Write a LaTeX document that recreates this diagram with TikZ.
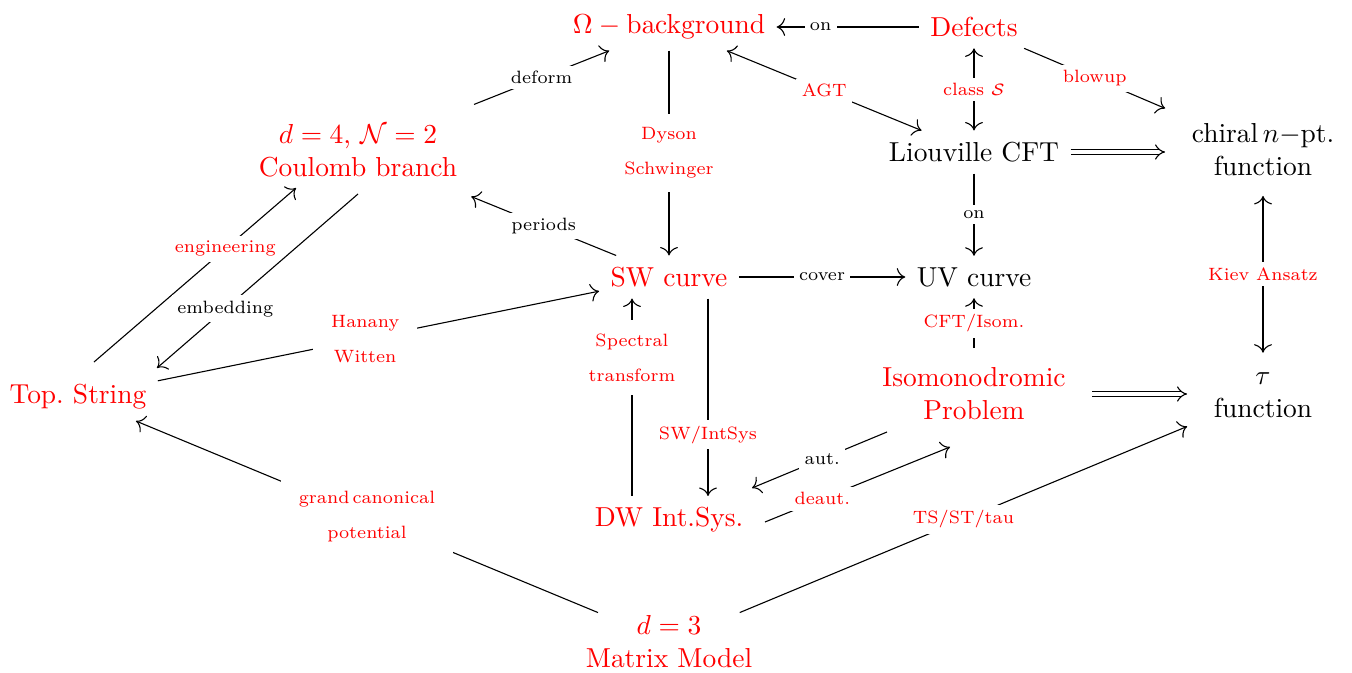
\documentclass[tikz,border=0pt]{standalone}
\usepackage{amsmath,amssymb}
\usepackage{xcolor}
\usepackage{tikz}
\usetikzlibrary{arrows.meta}

\begin{document}
\begin{tikzpicture}[
    x=0.3643pt, y=-0.3643pt,
    cell/.style={align=center, inner sep=4pt},
    stack/.style={cell, inner xsep=9.5pt, inner ysep=7pt},
    hot/.style={text=red},
    lbl/.style={font=\fontsize{6.5}{8}\selectfont, fill=white, inner sep=2pt},
    rlbl/.style={lbl, text=red},
    pair/.style={align=center, inner xsep=6.5pt, inner ysep=5pt},
    arrow/.style={-{Computer Modern Rightarrow[scale=1.25]}},
    both/.style={{Computer Modern Rightarrow[scale=1.25]}-{Computer Modern Rightarrow[scale=1.25]}},
    implies/.style={-Implies, double equal sign distance},
]
\useasboundingbox (0,0) rectangle (1352,673);

% Top row
\node[cell, hot] (omega) at (669,27) {$\Omega - \mathrm{background}$};
\node[cell, hot] (defects) at (974,27) {Defects};

% Gauge theory, CFT, conformal blocks
\node[stack, hot] (coulomb) at (358,150.5) {$d=4$, $\mathcal{N}=2$\\Coulomb branch};
\node[cell] (liouville) at (974,152) {Liouville CFT};
\node[stack] (chiral) at (1263,150) {chiral\,$n-$pt.\\function};

% Curves
\node[cell, hot] (swcurve) at (669,277) {SW curve};
\node[cell] (uvcurve) at (974,277) {UV curve};

% Strings, isomonodromy, tau
\node[cell, hot] (topstring) at (78,397) {Top.\ String};
\node[stack, hot] (isomono) at (974,394) {Isomonodromic\\Problem};
\node[stack] (tau) at (1263,395) {$\tau$\\function};

% Integrable system and matrix model
\node[cell, hot] (dwint) at (669,520) {DW Int.Sys.};
\node[cell, hot, inner sep=1pt] (matrix) at (669,642) {$d=3$\\Matrix Model};

% Arrows
\draw[arrow] (defects) -- node[lbl, pos=0.69]{on} (omega);
\draw[arrow] (coulomb) -- node[lbl]{deform} (omega);
\draw[arrow] (omega) -- node[rlbl, pair]{Dyson\\[4.7pt]Schwinger} (swcurve);
\draw[both] (omega) -- node[rlbl]{AGT} (liouville);
\draw[both] (defects) -- node[rlbl]{class $\mathcal{S}$} (liouville);
\draw[arrow] (defects) -- node[rlbl]{blowup} (chiral);
\draw[implies] (liouville) -- (liouville -| chiral.west);
\draw[arrow] (liouville) -- node[lbl]{on} (uvcurve);
\draw[arrow] (swcurve) -- node[lbl]{periods} (coulomb);
\draw[arrow] (swcurve) -- node[lbl]{cover} (uvcurve);
\draw[arrow] ([shift={(16,-35)}]topstring.center) -- node[rlbl, pos=0.65]{engineering} ([shift={(-62,37.5)}]coulomb.center);
\draw[arrow] ([shift={(0,43.5)}]coulomb.center) -- node[lbl, pos=0.66]{embedding} ([shift={(79,-29)}]topstring.center);
\draw[arrow] (topstring) -- node[rlbl, pair, pos=0.47]{Hanany\\[4.7pt]Witten} (swcurve);
\draw[arrow] ([shift={(-37,0)}]dwint.north) -- node[rlbl, pair, pos=0.7]{Spectral\\[4.7pt]transform} ([shift={(-37,0)}]swcurve.south);
\draw[arrow] ([shift={(39,0)}]swcurve.south) -- node[rlbl, pos=0.69]{SW/IntSys} ([shift={(39,0)}]dwint.north);
\draw[arrow] ([shift={(-87,38)}]isomono.center) -- node[lbl, pos=0.48]{aut.} ([shift={(83,-32)}]dwint.center);
\draw[arrow] ([shift={(96,2)}]dwint.center) -- node[rlbl, pos=0.31]{deaut.} ([shift={(-24,53)}]isomono.center);
\draw[arrow] (isomono) -- node[rlbl]{CFT/Isom.} (uvcurve);
\draw[implies] (isomono) -- (isomono -| tau.west);
\draw[both] (chiral) -- node[rlbl]{Kiev Ansatz} (tau);
\draw[arrow] (matrix) -- node[rlbl, pair]{grand\,canonical\\[4.7pt]potential} (topstring);
\draw[arrow] (matrix) -- node[rlbl]{TS/ST/tau} (tau);

\end{tikzpicture}
\end{document}
